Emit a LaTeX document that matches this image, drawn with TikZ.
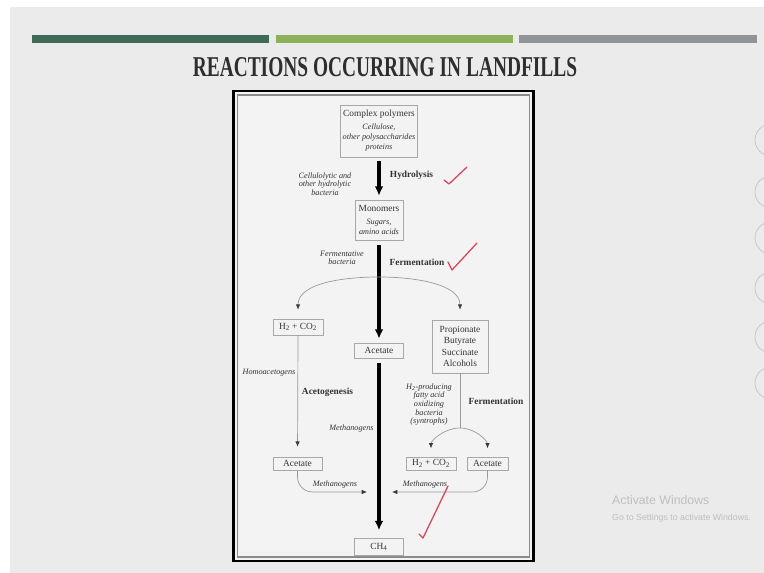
\documentclass[tikz,border=0pt]{standalone}
\usepackage{fontspec}
\setmainfont{Liberation Serif}
\newfontfamily\winfont{Liberation Sans}
\usetikzlibrary{arrows.meta,calc}
\definecolor{slidegray}{HTML}{EBEBEB}
\definecolor{panel}{HTML}{F3F3F3}
\definecolor{bardark}{HTML}{3F6A58}
\definecolor{barlight}{HTML}{8CB158}
\definecolor{bargray}{HTML}{909497}
\definecolor{titlegray}{HTML}{2E2E2E}
\definecolor{boxgray}{HTML}{A8A8A8}
\definecolor{linegray}{HTML}{9A9A9A}
\definecolor{txt}{HTML}{333333}
\definecolor{tipgray}{HTML}{3A3A3A}
\definecolor{framegray}{HTML}{8A8A8A}
\definecolor{checkred}{HTML}{D8455E}
\definecolor{circgray}{HTML}{C8C8C8}
\definecolor{wmgray}{HTML}{BFBFBF}
\newcommand\diagrm{\fontsize{8}{9.6}\selectfont}
\newcommand\diagit{\fontsize{7}{8.4}\selectfont\itshape}
\newcommand\diagbf{\fontsize{8}{9.6}\selectfont\bfseries}

\begin{document}
\begin{tikzpicture}[x=0.03cm, y=0.03cm,
  box/.style={draw=boxgray, line width=0.5pt, inner sep=1pt, align=center, font=\diagrm, text=txt},
  big arrow/.style={-{Latex[length=8pt,width=7.5pt]}, line width=2.8pt},
  thin arrow/.style={-{Latex[length=4.5pt,width=3.8pt,color=tipgray]}, draw=linegray, line width=0.6pt},
  note/.style={font=\diagit, align=center, text=txt},
  stage/.style={font=\diagbf, text=txt},
  check/.style={draw=checkred, line width=1.1pt, line cap=round, line join=round}]
\clip (0,0) rectangle (764,573);
\fill[white] (0,0) rectangle (764,573);
\fill[slidegray] (10,0) rectangle (764,566);
\fill[bardark] (32,530) rectangle (269,538);
\fill[barlight] (276,530) rectangle (513,538);
\fill[bargray] (519,530) rectangle (757,538);
\node[text=titlegray, font=\fontsize{24.5}{26}\selectfont\bfseries] (title) at (385,505.5) {\scalebox{0.676}[1]{REACTIONS OCCURRING IN LANDFILLS}};
\filldraw[fill=panel, draw=black, line width=2.4pt] (233.5,12) rectangle (533.5,482);
\draw[framegray, line width=0.9pt] (237.5,16) rectangle (529.5,478);

\node[box, minimum width=2.31cm, minimum height=1.56cm] (poly) at (379,442) {Complex polymers\\[1.5pt]\diagit Cellulose,\\[-1pt]\diagit other polysaccharides\\[-1pt]\diagit proteins};
\node[box, minimum width=1.44cm, minimum height=1.2cm] (mono) at (379,353) {Monomers\\[1pt]\diagit Sugars,\\[-1pt]\diagit amino acids};
\node[box, minimum width=1.47cm, minimum height=0.45cm] (acet) at (379,222.5) {Acetate};
\node[box, minimum width=1.5cm, minimum height=0.48cm] (h2a) at (298,246) {H\textsubscript{2} + CO\textsubscript{2}};
\node[box, minimum width=1.68cm, minimum height=1.59cm] (prop) at (460,226.5) {Propionate\\Butyrate\\Succinate\\Alcohols};
\node[box, minimum width=1.47cm, minimum height=0.39cm] (aca) at (297.5,109.5) {Acetate};
\node[box, minimum width=1.5cm, minimum height=0.39cm] (h2b) at (431,109.5) {H\textsubscript{2} + CO\textsubscript{2}};
\node[box, minimum width=1.23cm, minimum height=0.39cm] (acb) at (487.5,109.5) {Acetate};
\node[box, minimum width=1.47cm, minimum height=0.51cm] (ch4) at (379,26) {CH\textsubscript{4}};

\node[note] (cellbac) at (325,389) {Cellulolytic and\\[-1pt]other hydrolytic\\[-1pt]bacteria};
\node[stage] (hydro) at (411.5,398) {Hydrolysis};
\node[note] (fermbac) at (342,315) {Fermentative\\[-1pt]bacteria};
\node[stage] (ferm1) at (417,311) {Fermentation};
\node[note] (homo) at (269,200) {Homoacetogens};
\node[stage] (acetog) at (327.5,181) {Acetogenesis};
\node[note] (meth1) at (351.5,144) {Methanogens};
\node[note] (synt) at (429,168.5) {H\textsubscript{2}-producing\\[-1pt]fatty acid\\[-1pt]oxidizing\\[-1pt]bacteria\\[-1pt](syntrophs)};
\node[stage] (ferm2) at (496,172) {Fermentation};
\node[note] (meth2) at (335,88) {Methanogens};
\node[note] (meth3) at (425,88) {Methanogens};

\coordinate (fsplit) at (379,296);
\coordinate (psplit) at (460,145);
\coordinate (mleft) at (367,81);
\coordinate (mright) at (392,81);
\draw[big arrow, shorten <=0.12cm, shorten >=0.12cm] (poly.south) -- (mono.north);
\draw[big arrow, shorten <=0.15cm, shorten >=0.12cm] (mono.south) -- (acet.north);
\draw[big arrow, shorten <=0.15cm, shorten >=0.24cm] (acet.south) -- (ch4.north);
\draw[thin arrow, shorten >=0.27cm] (fsplit) to[out=180,in=90] (h2a.north);
\draw[thin arrow, shorten >=0.3cm] (fsplit) to[out=0,in=90] (prop.north);
\draw[thin arrow, shorten >=0.3cm] (h2a.south) -- (aca.north);
\draw[linegray, line width=0.6pt] (prop.south) -- (psplit);
\draw[thin arrow, shorten >=0.25cm] (psplit) to[out=180,in=90] (h2b.north);
\draw[thin arrow, shorten >=0.25cm] (psplit) to[out=0,in=90] (acb.north);
\draw[thin arrow, rounded corners=0.45cm] (aca.south) |- (mleft);
\draw[thin arrow, rounded corners=0.45cm] (acb.south) |- (mright);

\draw[check] (444,393) -- (449,389) -- (467,406);
\draw[check] (448,311) -- (452,303) -- (477,330);
\draw[check] (419,39) -- (423,35) -- (448,87);

\foreach \cy in {433,381,335,285,236,190}
  \draw[circgray, line width=0.7pt] (771,\cy) circle (0.48cm);
\node[anchor=west, text=wmgray, font=\winfont\fontsize{10.5}{12}\selectfont, inner sep=0] (wm1) at (612,73) {Activate Windows};
\node[anchor=west, text=wmgray, font=\winfont\fontsize{7.5}{9}\selectfont, inner sep=0] (wm2) at (612,55) {Go to Settings to activate Windows.};
\end{tikzpicture}
\end{document}
